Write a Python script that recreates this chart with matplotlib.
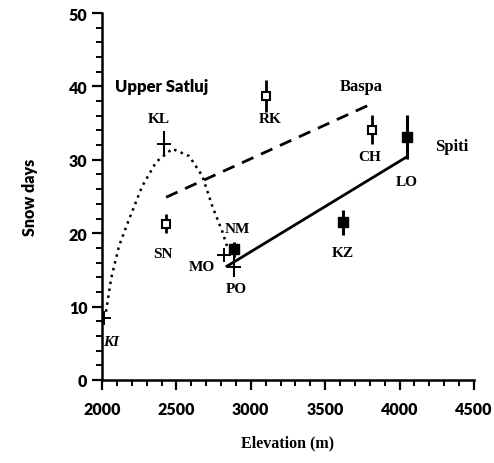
import matplotlib
matplotlib.use("Agg")
import matplotlib.pyplot as plt
from matplotlib.ticker import MultipleLocator

# Stations: (name, elevation m, snow days, error)
plus_names = ["KI", "KL", "MO", "PO"]
plus_x = [2015, 2418, 2822, 2890]
plus_y = [8.4, 32.2, 17.0, 15.4]
plus_err = [0.0, 1.7, 0.0, 1.3]

open_names = ["SN", "RK", "CH"]
open_x = [2430, 3105, 3813]
open_y = [21.3, 38.7, 34.1]
open_err = [1.3, 2.2, 2.0]

fill_names = ["NM", "KZ", "LO"]
fill_x = [2890, 3617, 4048]
fill_y = [17.8, 21.5, 33.1]
fill_err = [1.0, 1.7, 3.0]

# Station label positions
label_names = ["KI", "KL", "SN", "MO", "NM", "PO", "RK", "CH", "LO", "KZ"]
label_x = [2060, 2384, 2411, 2674, 2910, 2903, 3133, 3800, 4048, 3617]
label_y = [5.3, 35.6, 17.3, 15.5, 20.6, 12.4, 35.6, 30.5, 27.1, 17.4]

# Upper Satluj dotted curve
curve_x = [2027, 2061, 2115, 2182, 2270, 2364, 2472, 2586, 2674, 2741, 2809, 2842]
curve_y = [9.3, 13.8, 18.3, 21.9, 26.4, 29.7, 31.5, 30.5, 27.8, 23.7, 20.2, 18.1]

# Baspa dashed line, Spiti solid line
baspa_x = [2431, 3820]
baspa_y = [24.9, 37.7]
spiti_x = [2840, 4048]
spiti_y = [15.5, 30.4]

region_names = ["Upper Satluj", "Baspa", "Spiti"]
region_x = [2398, 3745, 4352]
region_y = [40.0, 40.0, 31.9]

fig = plt.figure(figsize=(4.94, 4.64), dpi=100)
ax = fig.add_axes([0.2065, 0.1789, 0.753, 0.7909])

ax.plot(curve_x, curve_y, color="black", linestyle=(0, (1, 1.8)), lw=1.8)
ax.plot(baspa_x, baspa_y, color="black", linestyle=(0, (4.5, 3)), lw=2.0)
ax.plot(spiti_x, spiti_y, color="black", linestyle="-", lw=2.0)

ax.errorbar(plus_x, plus_y, yerr=plus_err, fmt="+", color="black", ms=10, mew=1.4,
            elinewidth=1.5, capsize=0)
ax.errorbar(open_x, open_y, yerr=open_err, fmt="s", color="black", mfc="white", ms=6,
            mew=1.5, elinewidth=2.0, capsize=0)
ax.errorbar(fill_x, fill_y, yerr=fill_err, fmt="s", color="black", ms=7,
            elinewidth=2.2, capsize=0)

serif = "Liberation Serif"
sans = "Lato"
for n, x, y in zip(label_names, label_x, label_y):
    ax.text(x, y, n, ha="center", va="center", fontsize=11, fontweight="bold",
            family=serif, style="italic" if n == "KI" else "normal")

ax.text(region_x[0], region_y[0], region_names[0], ha="center", va="center",
        fontsize=12, fontweight="heavy", family=sans)
ax.text(region_x[1], region_y[1], region_names[1], ha="center", va="center",
        fontsize=12, fontweight="bold", family=serif)
ax.text(region_x[2], region_y[2], region_names[2], ha="center", va="center",
        fontsize=12, fontweight="bold", family=serif)

ax.set_xlim(2000, 4500)
ax.set_ylim(0, 50)
ax.set_xticks([2000, 2500, 3000, 3500, 4000, 4500])
ax.set_yticks([0, 10, 20, 30, 40, 50])
ax.xaxis.set_minor_locator(MultipleLocator(100))
ax.yaxis.set_minor_locator(MultipleLocator(2))
for s in ["top", "right"]:
    ax.spines[s].set_visible(False)
for s in ["left", "bottom"]:
    ax.spines[s].set_linewidth(1.8)
ax.tick_params(which="major", length=7, width=1.6, direction="out")
ax.tick_params(which="minor", length=4, width=1.4, direction="out")
for lab in ax.get_xticklabels() + ax.get_yticklabels():
    lab.set_fontfamily(sans)
    lab.set_fontweight("heavy")
    lab.set_fontsize(11.5)
ax.tick_params(axis="x", pad=8)

ax.set_xlabel("Elevation (m)", fontsize=11.5, fontweight="bold", family=serif, labelpad=13)
ax.set_ylabel("Snow days", fontsize=11.5, fontweight="heavy", family=sans, labelpad=22)

fig.savefig("out.png", dpi=100)
